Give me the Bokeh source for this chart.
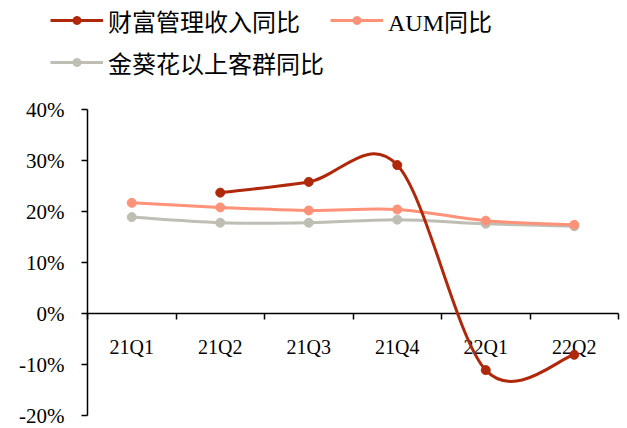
import math
from bokeh.plotting import figure
from bokeh.models import LinearAxis, FixedTicker, Legend, LegendItem
from bokeh.embed import file_html
from bokeh.resources import INLINE

# ---- data ----
quarters = ["21Q1", "21Q2", "21Q3", "21Q4", "22Q1", "22Q2"]
wealth_income_yoy = [float("nan"), 23.7, 25.8, 29.1, -11.1, -8.1]
aum_yoy = [21.7, 20.8, 20.2, 20.4, 18.2, 17.4]
sunflower_yoy = [18.9, 17.8, 17.8, 18.4, 17.6, 17.1]
y_ticks = [-20, -10, 0, 10, 20, 30, 40]
y_tick_labels = ["-20%", "-10%", "0%", "10%", "20%", "30%", "40%"]
series_names = ["财富管理收入同比", "AUM同比", "金葵花以上客群同比"]
series_colors = ["#B0280A", "#FF9278", "#BEBEB4"]

SERIF = "Liberation Serif"
LEGEND_FONT = "'Liberation Serif', 'Noto Sans CJK SC'"

# ---- layout constants (pixels) ----
W, H = 626, 427
AXIS_X = 87          # y-axis line position
CAT_PX = 88.5        # width of one category
ZERO_Y = 313         # y position of 0%
PX_PER_PCT = 5.1


def smooth_segments(xs, ys):
    """Catmull-Rom style Bezier control points (like Excel smoothed lines)."""
    def ok(i):
        return 0 <= i < len(ys) and not math.isnan(ys[i])
    seg = dict(x0=[], y0=[], x1=[], y1=[], cx0=[], cy0=[], cx1=[], cy1=[])
    for i in range(len(ys) - 1):
        if not (ok(i) and ok(i + 1)):
            continue
        p1 = (xs[i], ys[i])
        p2 = (xs[i + 1], ys[i + 1])
        p0 = (xs[i - 1], ys[i - 1]) if ok(i - 1) else p1
        p3 = (xs[i + 2], ys[i + 2]) if ok(i + 2) else p2
        seg["x0"].append(p1[0]); seg["y0"].append(p1[1])
        seg["x1"].append(p2[0]); seg["y1"].append(p2[1])
        seg["cx0"].append(p1[0] + (p2[0] - p0[0]) / 6)
        seg["cy0"].append(p1[1] + (p2[1] - p0[1]) / 6)
        seg["cx1"].append(p2[0] - (p3[0] - p1[0]) / 6)
        seg["cy1"].append(p2[1] - (p3[1] - p1[1]) / 6)
    return seg


n = len(quarters)
centers = [i + 0.5 for i in range(n)]
boundaries = list(range(n + 1))

p = figure(width=W, height=H,
           x_range=(-AXIS_X / CAT_PX, (W - AXIS_X) / CAT_PX),
           y_range=(-(H - ZERO_Y) / PX_PER_PCT, ZERO_Y / PX_PER_PCT),
           x_axis_location=None, y_axis_location=None,
           output_backend="svg", toolbar_location=None,
           min_border_left=0, min_border_right=0, min_border_top=0, min_border_bottom=0)
p.grid.visible = False
p.outline_line_color = None
p.background_fill_color = "white"
p.border_fill_color = "white"

# y axis at x = 0
yaxis = LinearAxis(ticker=FixedTicker(ticks=y_ticks), fixed_location=0,
                   bounds=(y_ticks[0], y_ticks[-1]),
                   major_label_overrides=dict(zip(y_ticks, y_tick_labels)),
                   major_tick_out=6, major_tick_in=0, minor_tick_out=0, minor_tick_in=0,
                   axis_line_width=1.5, major_tick_line_width=1.5,
                   major_label_standoff=17,
                   major_label_text_font=SERIF, major_label_text_font_size="21px",
                   major_label_text_color="black")
p.add_layout(yaxis, "left")

# x axis at y = 0: labels at category centres, ticks at boundaries
xaxis = LinearAxis(ticker=FixedTicker(ticks=centers, minor_ticks=boundaries), fixed_location=0,
                   bounds=(0, n),
                   major_label_overrides=dict(zip(centers, quarters)),
                   major_tick_out=0, major_tick_in=0, major_tick_line_color=None,
                   minor_tick_out=6, minor_tick_in=0, minor_tick_line_width=1.5,
                   minor_tick_line_color="black",
                   axis_line_width=1.5,
                   major_label_standoff=16,
                   major_label_text_font=SERIF, major_label_text_font_size="20px",
                   major_label_text_color="black", level="underlay")
p.add_layout(xaxis, "below")

series = [wealth_income_yoy, aum_yoy, sunflower_yoy]
items = [None] * 3
for idx in [2, 1, 0]:
    ys = series[idx]
    col = series_colors[idx]
    seg = smooth_segments(centers, ys)
    br = p.bezier(x0="x0", y0="y0", x1="x1", y1="y1", cx0="cx0", cy0="cy0", cx1="cx1", cy1="cy1",
                  source=seg, line_color=col, line_width=3)
    sr = p.scatter(x=centers, y=ys, size=9, marker="circle", fill_color=col, line_color=col)
    items[idx] = LegendItem(label=series_names[idx], renderers=[br, sr])

legend = Legend(items=items, location=(50, H - 80), orientation="horizontal", ncols=2,
                glyph_width=53, glyph_height=20, label_height=36, label_standoff=5,
                spacing=6, padding=0, margin=0, border_line_color=None,
                background_fill_alpha=0,
                label_text_font=LEGEND_FONT, label_text_font_size="24px",
                label_text_color="black")
p.add_layout(legend)

open("out.html", "w").write(file_html(p, INLINE))
